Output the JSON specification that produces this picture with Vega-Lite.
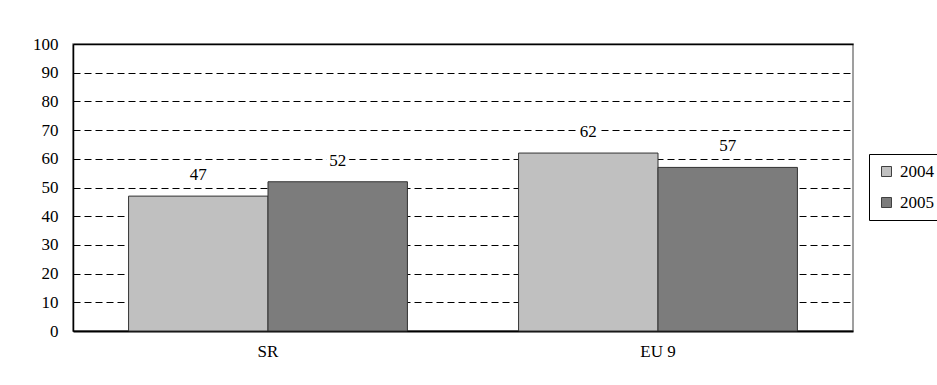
{
  "$schema": "https://vega.github.io/schema/vega-lite/v6.json",
  "autosize": {"type": "none"},
  "padding": {"left": 73, "top": 44, "right": 84, "bottom": 54},
  "width": 780,
  "height": 287,
  "background": "white",
  "config": {
    "font": "'Liberation Serif', 'Times New Roman', Times, serif",
    "view": {"stroke": "#808080", "strokeWidth": 1.5},
    "axis": {"labelFont": "'Liberation Serif', 'Times New Roman', Times, serif", "labelFontSize": 17, "labelColor": "black"},
    "legend": {"labelFont": "'Liberation Serif', 'Times New Roman', Times, serif", "labelFontSize": 17, "labelColor": "black"},
    "text": {"font": "'Liberation Serif', 'Times New Roman', Times, serif"}
  },
  "data": {
    "values": [
      {"region": "SR", "year": "2004", "value": 47},
      {"region": "SR", "year": "2005", "value": 52},
      {"region": "EU 9", "year": "2004", "value": 62},
      {"region": "EU 9", "year": "2005", "value": 57}
    ]
  },
  "encoding": {
    "x": {
      "field": "region",
      "type": "nominal",
      "sort": ["SR", "EU 9"],
      "scale": {"paddingInner": 0.285, "paddingOuter": 0.1425}
    },
    "xOffset": {"field": "year", "type": "nominal", "sort": ["2004", "2005"]},
    "y": {
      "field": "value",
      "type": "quantitative",
      "scale": {"domain": [0, 100]},
      "axis": {
        "title": null,
        "values": [0, 10, 20, 30, 40, 50, 60, 70, 80, 90, 100],
        "ticks": false,
        "labelPadding": 15,
        "domainColor": "black",
        "domainWidth": 1.5,
        "grid": true,
        "gridColor": "black",
        "gridDash": [7, 4],
        "gridWidth": 1
      }
    }
  },
  "layer": [
    {
      "mark": {"type": "bar", "stroke": "#333333", "strokeWidth": 1},
      "encoding": {
        "x": {
          "field": "region",
          "type": "nominal",
          "sort": ["SR", "EU 9"],
          "axis": {
            "title": null,
            "orient": "bottom",
            "ticks": false,
            "labelAngle": 0,
            "labelPadding": 12,
            "domainColor": "black",
            "domainWidth": 2
          }
        },
        "fill": {
          "field": "year",
          "type": "nominal",
          "scale": {"domain": ["2004", "2005"], "range": ["#c0c0c0", "#7c7c7c"]},
          "legend": {
            "title": null,
            "orient": "none",
            "legendX": 796,
            "legendY": 110,
            "symbolType": "square",
            "symbolSize": 100,
            "symbolStrokeColor": "#404040",
            "symbolStrokeWidth": 1,
            "symbolOpacity": 1,
            "labelOffset": 5,
            "rowPadding": 13,
            "padding": 9,
            "strokeColor": "black"
          }
        }
      }
    },
    {
      "mark": {"type": "text", "dy": -16, "baseline": "alphabetic", "fontSize": 17, "stroke": "white", "strokeWidth": 8, "fill": "white"},
      "encoding": {
        "x": {
          "field": "region",
          "type": "nominal",
          "sort": ["SR", "EU 9"],
          "axis": {
            "title": null,
            "orient": "top",
            "labels": false,
            "ticks": false,
            "domainColor": "black",
            "domainWidth": 1.5
          }
        },
        "text": {"field": "value", "type": "quantitative"}
      }
    },
    {
      "mark": {"type": "text", "dy": -16, "baseline": "alphabetic", "fontSize": 17, "fill": "black"},
      "encoding": {
        "x": {"field": "region", "type": "nominal", "sort": ["SR", "EU 9"], "axis": null},
        "text": {"field": "value", "type": "quantitative"}
      }
    }
  ],
  "resolve": {"axis": {"x": "independent"}}
}
